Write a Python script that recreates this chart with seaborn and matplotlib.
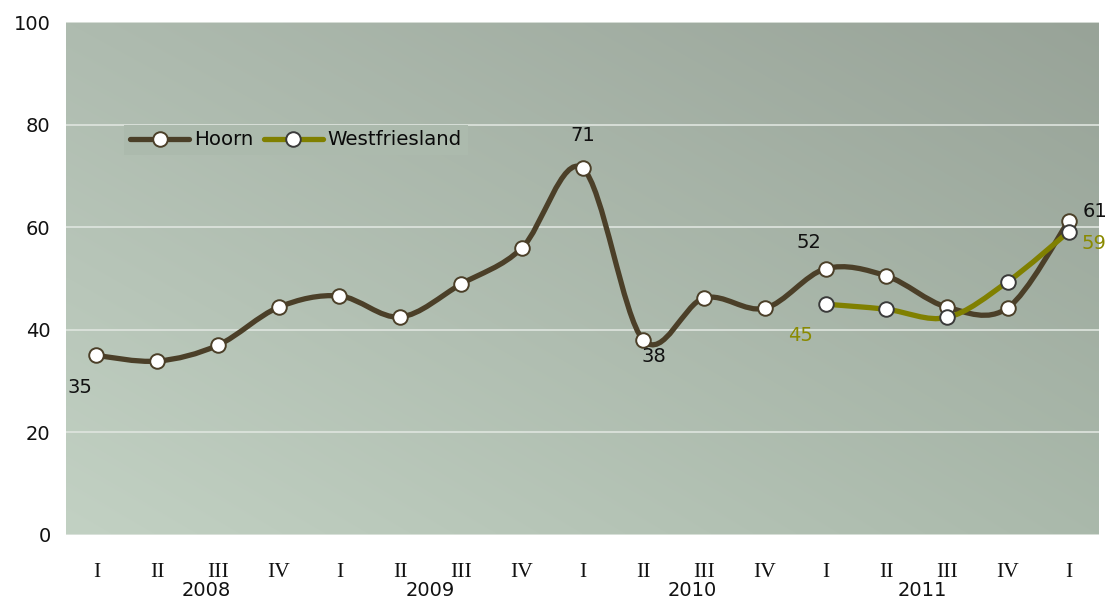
import numpy as np
import matplotlib
matplotlib.use('Agg')
import matplotlib.pyplot as plt
import matplotlib.transforms as mtransforms
from matplotlib.path import Path
from matplotlib.patches import PathPatch
from matplotlib.lines import Line2D
import seaborn as sns

# data
quarters = ['I', 'II', 'III', 'IV'] * 4 + ['I']
years = ['2008', '2009', '2010', '2011']
year_pos = [1.8, 5.5, 9.8, 13.6]
hoorn = [35.0, 33.9, 37.0, 44.4, 46.6, 42.5, 48.9, 55.9, 71.5, 38.0,
         46.2, 44.2, 51.9, 50.5, 44.4, 44.3, 61.2]
westfriesland = [45.0, 44.0, 42.4, 49.4, 59.1]
wf_start = 12
hoorn_labels = [(0, '35'), (8, '71'), (9, '38'), (12, '52'), (16, '61')]
wf_labels = [(0, '45'), (4, '59')]

HOORN_C = '#4b3f28'
WF_C = '#808000'


def smooth_path(x, y):
    # excel-like smoothed line: catmull-rom as cubic bezier segments
    p = np.column_stack([x, y]).astype(float)
    ext = np.vstack([p[0], p, p[-1]])
    verts = [p[0]]
    codes = [Path.MOVETO]
    for i in range(len(p) - 1):
        c1 = p[i] + (ext[i + 2] - ext[i]) / 6
        c2 = p[i + 1] - (ext[i + 3] - ext[i + 1]) / 6
        verts += [c1, c2, p[i + 1]]
        codes += [Path.CURVE4] * 3
    return Path(verts, codes)


def gradient_bg(ax):
    tl = np.array([0xae, 0xbb, 0xaf]) / 255
    tr = np.array([0x98, 0xa3, 0x98]) / 255
    bl = np.array([0xc2, 0xd1, 0xc3]) / 255
    br = np.array([0xaa, 0xb9, 0xab]) / 255
    u = np.linspace(0, 1, 200)[None, :, None]
    v = np.linspace(0, 1, 200)[:, None, None]  # 0 = top row
    img = (1 - v) * ((1 - u) * tl + u * tr) + v * ((1 - u) * bl + u * br)
    ax.imshow(img, extent=[0, 1, 0, 1], transform=ax.transAxes,
              aspect='auto', interpolation='bilinear', zorder=0)


sns.set_theme(style='white')
plt.rcParams['font.family'] = ['DejaVu Sans']

fig = plt.figure(figsize=(11.07, 6), dpi=100)
ax = fig.add_axes([66 / 1107, 65 / 600, 1033 / 1107, 513 / 600])
gradient_bg(ax)

x_h = np.arange(len(hoorn))
x_w = np.arange(wf_start, wf_start + len(westfriesland))

for xs, ys, c in [(x_h, hoorn, HOORN_C), (x_w, westfriesland, WF_C)]:
    ax.add_patch(PathPatch(smooth_path(xs, ys), facecolor='none', edgecolor=c,
                           lw=3.8, capstyle='round', joinstyle='round', zorder=3))

sns.scatterplot(x=x_h, y=hoorn, ax=ax, color='white', edgecolor=HOORN_C,
                linewidth=1.4, s=110, zorder=5)
sns.scatterplot(x=x_w, y=westfriesland, ax=ax, color='white', edgecolor='#3a3a3a',
                linewidth=1.4, s=110, zorder=6)

hoorn_off = {0: (-16, -32), 8: (0, 33), 9: (11, -16), 12: (-17, 26), 16: (26, 10)}
for i, t in hoorn_labels:
    ax.annotate(t, (x_h[i], hoorn[i]), xytext=hoorn_off[i], textcoords='offset pixels',
                ha='center', va='center', fontsize=14, color='#111111', zorder=7)
wf_off = {0: (-25, -31), 4: (25, -12)}
for i, t in wf_labels:
    ax.annotate(t, (x_w[i], westfriesland[i]), xytext=wf_off[i], textcoords='offset pixels',
                ha='center', va='center', fontsize=14, color='#8a8a00', zorder=7)

ax.set_xlim(-0.5, len(quarters) - 0.5)
ax.set_ylim(0, 100)
ax.set_yticks(range(0, 101, 20))
ax.set_xticks(range(len(quarters)))
ax.set_xticklabels(quarters, family='Liberation Serif', fontsize=15.5, color='#111111')
ax.tick_params(axis='x', length=0, pad=20)
ax.tick_params(axis='y', length=0, pad=11, labelsize=14, labelcolor='#111111')
ax.grid(axis='y', color='#dfe5df', lw=1.2, zorder=1)
ax.grid(axis='x', visible=False)
ax.set_axisbelow(False)
for s in ax.spines.values():
    s.set_visible(False)

trans = mtransforms.blended_transform_factory(ax.transData, ax.transAxes)
for yr, xp in zip(years, year_pos):
    ax.text(xp, -0.108, yr, transform=trans, ha='center', va='center',
            fontsize=14, color='#111111')

handles = [Line2D([0], [0], color=HOORN_C, lw=3.8, marker='o', markersize=10.5,
                  mfc='white', mec=HOORN_C, mew=1.4, solid_capstyle='round'),
           Line2D([0], [0], color=WF_C, lw=3.8, marker='o', markersize=10.5,
                  mfc='white', mec='#3a3a3a', mew=1.4, solid_capstyle='round')]
leg = ax.legend(handles, ['Hoorn', 'Westfriesland'], loc='center left',
                bbox_to_anchor=(0.047, 0.77), ncol=2, fontsize=14.2, frameon=True,
                handlelength=3.0, handletextpad=0.25, columnspacing=0.5,
                borderpad=0.3, fancybox=False, labelcolor='#0a0a0a')
leg.get_frame().set_facecolor('#acbaad')
leg.get_frame().set_edgecolor('none')
leg.get_frame().set_alpha(1)
leg.set_zorder(8)

fig.savefig('out.png', dpi=100)
